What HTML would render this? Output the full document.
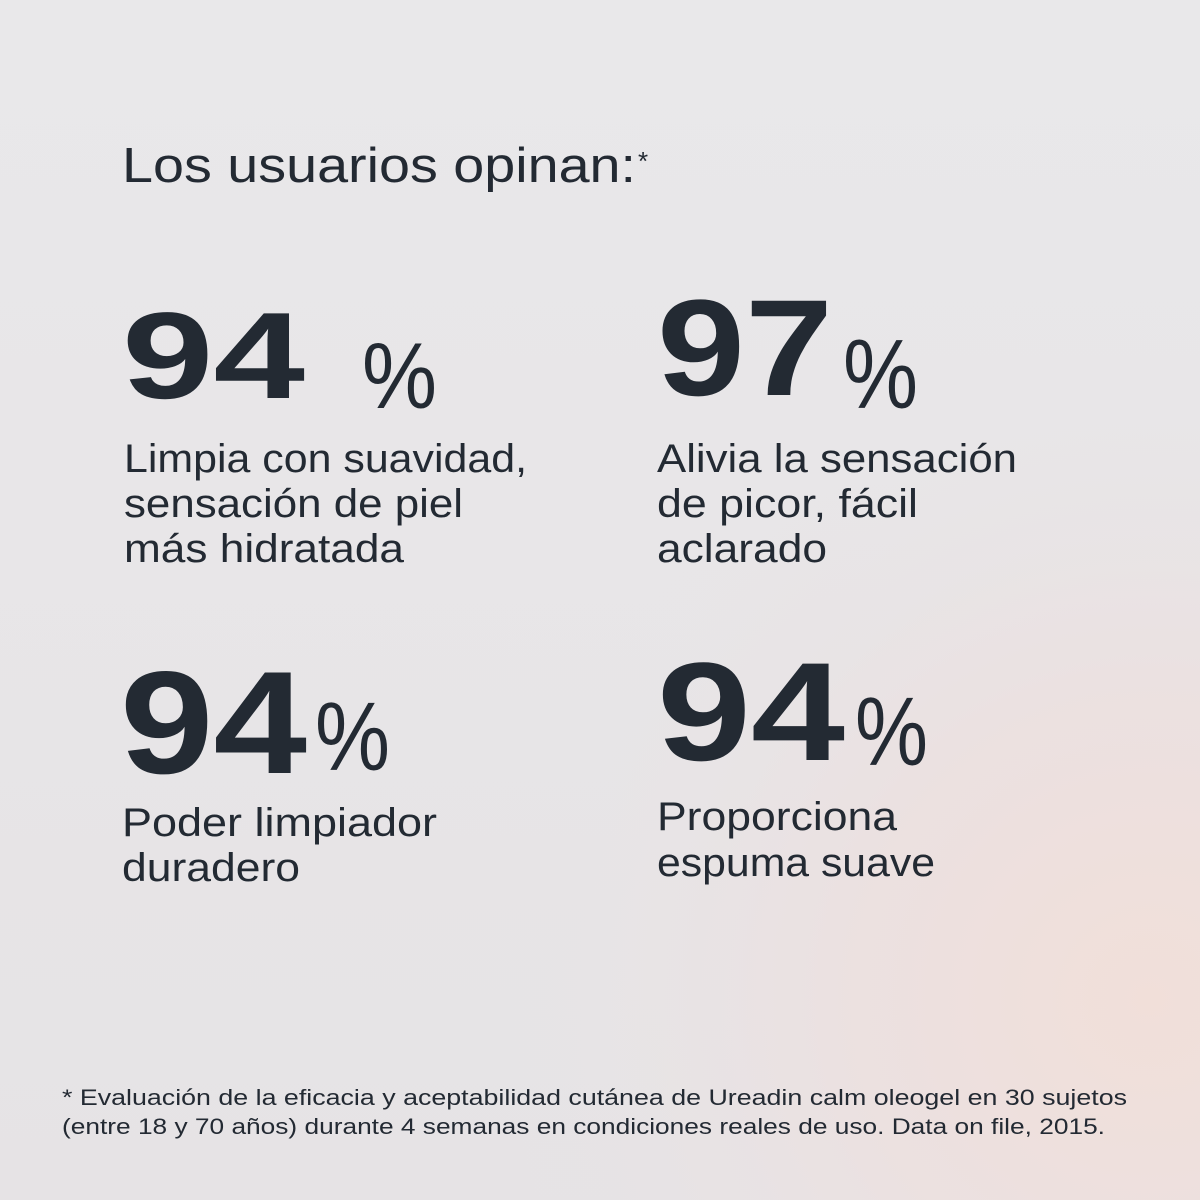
<!DOCTYPE html>
<html><head><meta charset="utf-8"><style>
html,body{margin:0;padding:0;width:1200px;height:1200px;overflow:hidden}
body{background:#e7e5e7}
svg{display:block}
text{font-family:"Liberation Sans",sans-serif;fill:#232a33}
.b{font-weight:bold}
</style></head><body>
<svg width="1200" height="1200" viewBox="0 0 1200 1200">
<defs>
<radialGradient id="g" cx="1150" cy="1000" r="650" gradientUnits="userSpaceOnUse">
<stop offset="0" stop-color="#f1dfd9"/>
<stop offset="0.5" stop-color="#ebe1e1"/>
<stop offset="1" stop-color="#e7e5e7" stop-opacity="0"/>
</radialGradient>
<linearGradient id="t" x1="0" y1="0" x2="0" y2="1">
<stop offset="0" stop-color="#e9e8ea"/><stop offset="1" stop-color="#e6e3e5"/>
</linearGradient>
</defs>
<rect width="1200" height="1200" fill="url(#t)"/>
<rect width="1200" height="1200" fill="url(#g)"/>

<text x="122" y="182" font-size="49" textLength="514" lengthAdjust="spacingAndGlyphs">Los usuarios opinan:</text>
<text x="638" y="170" font-size="26">*</text>

<text class="b" x="122" y="398" font-size="123" textLength="183" lengthAdjust="spacingAndGlyphs">94</text>
<text x="362" y="408" font-size="94" textLength="75" lengthAdjust="spacingAndGlyphs">%</text>
<text class="b" x="657" y="395" font-size="137" textLength="176" lengthAdjust="spacingAndGlyphs">97</text>
<text x="843" y="408" font-size="98" textLength="75" lengthAdjust="spacingAndGlyphs">%</text>
<text class="b" x="120" y="773" font-size="146" textLength="187" lengthAdjust="spacingAndGlyphs">94</text>
<text x="315" y="770" font-size="97" textLength="75" lengthAdjust="spacingAndGlyphs">%</text>
<text class="b" x="657" y="760" font-size="140" textLength="188" lengthAdjust="spacingAndGlyphs">94</text>
<text x="855" y="765" font-size="97" textLength="73" lengthAdjust="spacingAndGlyphs">%</text>

<g font-size="40">
<text x="124" y="472" textLength="403" lengthAdjust="spacingAndGlyphs">Limpia con suavidad,</text>
<text x="124" y="517" textLength="339" lengthAdjust="spacingAndGlyphs">sensación de piel</text>
<text x="124" y="562" textLength="280" lengthAdjust="spacingAndGlyphs">más hidratada</text>
<text x="657" y="472" textLength="360" lengthAdjust="spacingAndGlyphs">Alivia la sensación</text>
<text x="657" y="517" textLength="261" lengthAdjust="spacingAndGlyphs">de picor, fácil</text>
<text x="657" y="562" textLength="170" lengthAdjust="spacingAndGlyphs">aclarado</text>
<text x="122" y="836" textLength="315" lengthAdjust="spacingAndGlyphs">Poder limpiador</text>
<text x="122" y="881" textLength="178" lengthAdjust="spacingAndGlyphs">duradero</text>
<text x="657" y="830" textLength="240" lengthAdjust="spacingAndGlyphs">Proporciona</text>
<text x="657" y="876" textLength="278" lengthAdjust="spacingAndGlyphs">espuma suave</text>
</g>

<g font-size="22">
<text x="62" y="1105" textLength="1065" lengthAdjust="spacingAndGlyphs">* Evaluación de la eficacia y aceptabilidad cutánea de Ureadin calm oleogel en 30 sujetos</text>
<text x="62" y="1134" textLength="1043" lengthAdjust="spacingAndGlyphs">(entre 18 y 70 años) durante 4 semanas en condiciones reales de uso. Data on file, 2015.</text>
</g>
</svg>
</body></html>
